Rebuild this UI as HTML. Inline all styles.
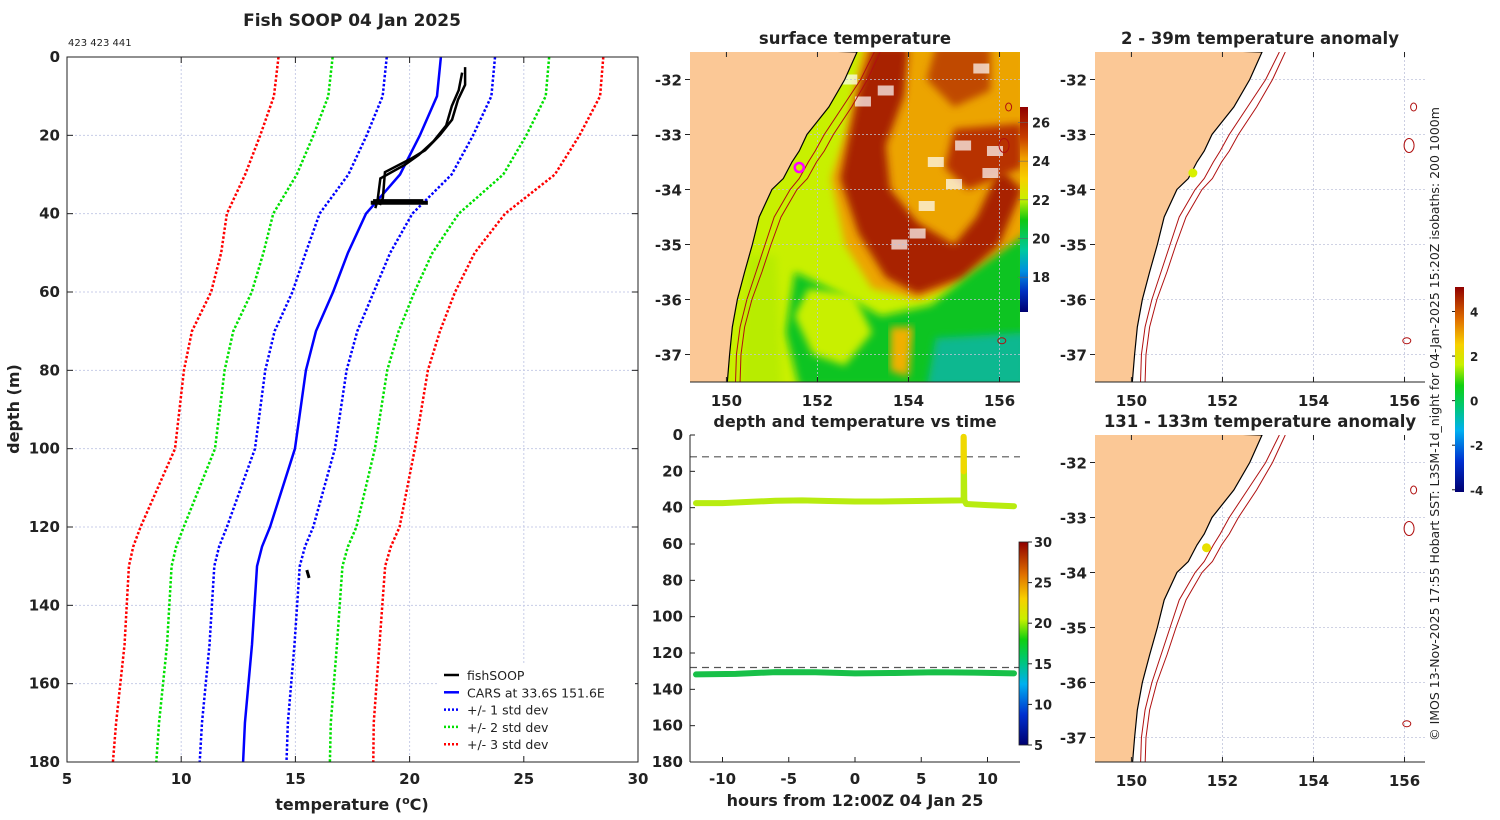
<!DOCTYPE html>
<html><head><meta charset="utf-8">
<style>
html,body{margin:0;padding:0;background:#fff;}
svg{display:block;font-family:"DejaVu Sans","Liberation Sans",sans-serif;}
</style></head>
<body>
<svg id="fig" width="1500" height="820" viewBox="0 0 1500 820" xmlns="http://www.w3.org/2000/svg">
<defs>
<linearGradient id="jet" x1="0" y1="1" x2="0" y2="0">
<stop offset="0" stop-color="#000070"/><stop offset="0.15" stop-color="#0030d0"/><stop offset="0.3" stop-color="#00b0f0"/><stop offset="0.42" stop-color="#00c870"/><stop offset="0.52" stop-color="#10d010"/><stop offset="0.62" stop-color="#c8f000"/><stop offset="0.72" stop-color="#f8d000"/><stop offset="0.84" stop-color="#e07000"/><stop offset="1" stop-color="#900000"/>
</linearGradient>
<linearGradient id="sstcb" x1="0" y1="1" x2="0" y2="0">
<stop offset="0" stop-color="#000070"/><stop offset="0.1" stop-color="#0030c0"/><stop offset="0.2" stop-color="#0090e0"/><stop offset="0.3" stop-color="#00c8a0"/><stop offset="0.45" stop-color="#10c810"/><stop offset="0.55" stop-color="#c8f000"/><stop offset="0.65" stop-color="#f8d000"/><stop offset="0.75" stop-color="#f0a000"/><stop offset="0.85" stop-color="#c84000"/><stop offset="1" stop-color="#900000"/>
</linearGradient>
<filter id="blur" x="-10%" y="-10%" width="120%" height="120%"><feGaussianBlur stdDeviation="4"/></filter>
<clipPath id="clipSST"><rect x="690" y="52" width="330" height="330"/></clipPath>
<clipPath id="clipA1"><rect x="1095" y="52" width="330" height="330"/></clipPath>
<clipPath id="clipA2"><rect x="1095" y="435" width="330" height="327"/></clipPath>
</defs>
<g id="root"></g>
</svg>
<script>
// ---------- Profile chart data ----------
const profDepth = [0,10,20,30,40,50,60,70,80,100,120,125,130,150,170,180];
const carsMean  = [21.37,21.2,20.45,19.58,18.09,17.3,16.65,15.9,15.46,14.98,13.89,13.54,13.32,13.1,12.79,12.71];
const carsStd   = [2.37,2.38,2.33,2.26,2.03,1.85,1.78,1.81,1.78,1.75,1.89,1.88,1.87,1.86,1.88,1.90];
const fishDepthA = [2.6,7.1,10.9,16.0,19.9,23.8,25.8,29.4,36.0,37.8];
const fishTempA  = [22.43,22.43,22.12,21.86,21.33,20.68,20.11,18.92,18.83,18.7];
const fishDepthB = [4,8.5,12.5,17.5,21.5,25,27.5,31,36.5,38.6];
const fishTempB  = [22.3,22.15,21.85,21.6,21.05,20.4,19.8,18.72,18.6,18.5];
const blobDepth = [36.8,37.2,37.0];
const blobTemp0 = [18.4,18.3,18.7];
const blobTemp1 = [20.6,20.8,19.3];
const deepDepth = [131,133];
const deepTemp  = [15.5,15.6];
const xTicksProf = [5,10,15,20,25,30];
const yTicksProf = [0,20,40,60,80,100,120,140,160,180];

// ---------- time series data ----------
const tsHoursU = [-12,-10,-8,-6,-4,-2,0,2,4,6,8,8.2,8.2,8.25,8.4,10,12];
const tsDepthU = [37.5,37.5,36.8,36.2,36,36.3,36.6,36.6,36.4,36.2,36,36,1,36,38,38.6,39.2];
const tsHoursL = [-12,-9,-6,-3,0,3,6,9,12];
const tsDepthL = [131.8,131.5,130.5,130.6,131.2,131.0,130.6,130.8,131.2];
const dashDepths = [12,128];
const tsXTicks = [-10,-5,0,5,10];
const tsYTicks = [0,20,40,60,80,100,120,140,160,180];
const tsCbTicks = [5,10,15,20,25,30];

// ---------- map data ----------
const coastLat = [-31.5,-32,-32.5,-33,-33.3,-33.5,-33.8,-34,-34.5,-35,-35.5,-36,-36.5,-37,-37.5];
const coastLon = [152.87,152.6,152.25,151.77,151.6,151.44,151.25,151.0,150.72,150.57,150.4,150.24,150.13,150.07,150.02];
const iso1Lon  = [153.25,152.95,152.55,152.15,151.95,151.8,151.6,151.4,151.05,150.85,150.65,150.45,150.3,150.22,150.2];
const iso2Lon  = [153.38,153.1,152.75,152.35,152.15,151.98,151.78,151.55,151.2,150.98,150.78,150.56,150.4,150.32,150.3];
const lonTicks = [150,152,154,156];
const latTicks = [-32,-33,-34,-35,-36,-37];
const sstCbTicks = [18,20,22,24,26];
const anomCbTicks = [-4,-2,0,2,4];

const NS="http://www.w3.org/2000/svg";
const root=document.getElementById('root');
function mk(tag,attrs,parent){const e=document.createElementNS(NS,tag);for(const k in attrs)e.setAttribute(k,attrs[k]);(parent||root).appendChild(e);return e;}
function txt(s,x,y,size,anchor,bold,parent,fill){const t=mk('text',{x:x,y:y,'font-size':size,'text-anchor':anchor||'start',fill:fill||'#222','font-weight':bold?'bold':'normal'},parent);t.textContent=s;return t;}

// ===== Profile chart =====
const PX0=67,PX1=638,PY0=57,PY1=762;
const px=t=>PX0+(t-5)/25*(PX1-PX0);
const py=d=>PY0+d/180*(PY1-PY0);
const gP=mk('g',{});


xTicksProf.slice(1,-1).forEach(t=>{const l=mk('line',{x1:px(t),x2:px(t),y1:PY0,y2:PY1,stroke:'#c8cde8','stroke-width':1,'stroke-dasharray':'2 2'},gP);});
yTicksProf.slice(1,-1).forEach(d=>{const l=mk('line',{x1:PX0,x2:PX1,y1:py(d),y2:py(d),stroke:'#c8cde8','stroke-width':1,'stroke-dasharray':'2 2'},gP);});
function polyline(xs,ys,attrs,name){const pts=xs.map((x,i)=>x+','+ys[i]).join(' ');const p=mk('polyline',Object.assign({points:pts,fill:'none'},attrs),gP);return p;}
const sdColors=['#0000ff','#00e000','#ff0000'];
[1,2,3].forEach(k=>{[-1,1].forEach(sg=>{
  polyline(carsMean.map((m,i)=>px(m+sg*k*carsStd[i])),profDepth.map(py),{stroke:sdColors[k-1],'stroke-width':2.5,'stroke-dasharray':'2.5 2'},'std-dev-'+k+(sg>0?'-plus':'-minus'));
});});
polyline(carsMean.map(px),profDepth.map(py),{stroke:'#0000ff','stroke-width':2.5},'cars-mean-line');
polyline(fishTempA.map(px),fishDepthA.map(py),{stroke:'#000','stroke-width':2.5},'fishsoop-profile-down');
polyline(fishTempB.map(px),fishDepthB.map(py),{stroke:'#000','stroke-width':2.5},'fishsoop-profile-up');
blobDepth.forEach((d,i)=>{const l=mk('line',{x1:px(blobTemp0[i]),x2:px(blobTemp1[i]),y1:py(d),y2:py(d),stroke:'#000','stroke-width':4},gP);});
polyline(deepTemp.map(px),deepDepth.map(py),{stroke:'#000','stroke-width':3},'fishsoop-deep-segment');
mk('rect',{x:PX0,y:PY0,width:PX1-PX0,height:PY1-PY0,fill:'none',stroke:'#222','stroke-width':1},gP);
xTicksProf.forEach(t=>{mk('line',{x1:px(t),x2:px(t),y1:PY1,y2:PY1-6,stroke:'#222'},gP);mk('line',{x1:px(t),x2:px(t),y1:PY0,y2:PY0+6,stroke:'#222'},gP);const tl=txt(String(t),px(t),PY1+22,15,'middle',true,gP);});
yTicksProf.forEach(d=>{mk('line',{x1:PX0,x2:PX0+6,y1:py(d),y2:py(d),stroke:'#222'},gP);mk('line',{x1:PX1,x2:PX1-6,y1:py(d),y2:py(d),stroke:'#222'},gP);const tl=txt(String(d),PX0-7,py(d)+5,15,'end',true,gP);});
let t1=txt('Fish SOOP 04 Jan 2025',352,26,17,'middle',true,gP);
let t2=txt('423 423 441',68,46,10,'start',false,gP);
let xt=mk('text',{x:352,y:810,'font-size':16,'text-anchor':'middle','font-weight':'bold',fill:'#222'},gP);xt.innerHTML='temperature (<tspan baseline-shift="super" font-size="11">o</tspan>C)';
let yt=txt('depth (m)',0,0,16,'middle',true,gP);yt.setAttribute('transform','translate(19,409) rotate(-90)');
const legItems=[['fishSOOP','#000',null],['CARS at 33.6S 151.6E','#0000ff',null],['+/- 1 std dev','#0000ff','2 2'],['+/- 2 std dev','#00e000','2 2'],['+/- 3 std dev','#ff0000','2 2']];
const gL=mk('g',{},gP);
mk('rect',{x:438,y:664,width:197,height:92,fill:'#fff'},gL);
legItems.forEach((it,i)=>{const y=675+i*17.3;const g=mk('g',{},gL);
 const a={x1:444,x2:459,y1:y,y2:y,stroke:it[1],'stroke-width':2.5};if(it[2])a['stroke-dasharray']=it[2];mk('line',a,g);txt(it[0],467,y+5,12.5,'start',false,g);});

// ===== Time series =====
const TX0=690,TX1=1020,TY0=435,TY1=762;
const tx=h=>855+h*13.25;
const ty=d=>TY0+d/180*(TY1-TY0);
const gT=mk('g',{});
dashDepths.forEach(d=>{const l=mk('line',{x1:TX0,x2:TX1,y1:ty(d),y2:ty(d),stroke:'#555','stroke-width':1.2,'stroke-dasharray':'7 5'},gT);});
function tsLine(hs,ds,color,name){const p=mk('polyline',{points:hs.map((h,i)=>tx(h)+','+ty(ds[i])).join(' '),fill:'none',stroke:color,'stroke-width':6,'stroke-linecap':'round','stroke-linejoin':'round'},gT);}
tsLine(tsHoursU,tsDepthU,'#b8ec10','upper-track');
let sp=mk('line',{x1:tx(8.2),x2:tx(8.2),y1:ty(1),y2:ty(20),stroke:'#f0d800','stroke-width':6,'stroke-linecap':'round'},gT);
tsLine(tsHoursL,tsDepthL,'#18c048','lower-track');
mk('line',{x1:TX0,x2:TX0,y1:TY0,y2:TY1,stroke:'#222'},gT);mk('line',{x1:TX0,x2:TX1,y1:TY1,y2:TY1,stroke:'#222'},gT);
tsXTicks.forEach(h=>{mk('line',{x1:tx(h),x2:tx(h),y1:TY1,y2:TY1-5,stroke:'#222'},gT);const l=txt(String(h),tx(h),TY1+22,15,'middle',true,gT);});
tsYTicks.forEach(d=>{mk('line',{x1:TX0,x2:TX0+5,y1:ty(d),y2:ty(d),stroke:'#222'},gT);const l=txt(String(d),TX0-7,ty(d)+5,15,'end',true,gT);});
let tt=txt('depth and temperature vs time',855,427,16,'middle',true,gT);
let tx2=txt('hours from 12:00Z 04 Jan 25',855,806,16,'middle',true,gT);
const CBY0=542,CBY1=745;const cby=v=>CBY1-(v-5)/25*(CBY1-CBY0);
let cb=mk('rect',{x:1019,y:CBY0,width:9,height:CBY1-CBY0,fill:'url(#jet)',stroke:'#222','stroke-width':0.8},gT);
tsCbTicks.forEach(v=>{mk('line',{x1:1028,x2:1032,y1:cby(v),y2:cby(v),stroke:'#222'},gT);const l=txt(String(v),1034,cby(v)+5,13,'start',true,gT);});

// ===== Maps =====
function makeMap(x0,y0,w,h,latTop,clip,name,title,sst){
 const mx=lon=>x0+(lon-149.2)/(156.45-149.2)*w;
 const my=lat=>y0+(latTop-lat)*55;
 const g=mk('g',{});
 const gc=mk('g',{'clip-path':'url(#'+clip+')'},g);
 mk('rect',{x:x0,y:y0,width:w,height:h,fill:sst?'#c8f000':'#fff'},gc);
 if(sst){
  const poly=(pts,fill,nm)=>{const p=mk('polygon',{points:pts.map(q=>mx(q[0])+','+my(q[1])).join(' '),fill:fill,filter:'url(#blur)'},gc);};
  poly([[153.0,-31.4],[156.6,-31.4],[156.6,-35.2],[155.5,-35.6],[154.2,-36.0],[153.2,-35.8],[152.6,-35.0],[152.3,-33.8],[152.6,-33.0]],'#eca400','warm-water-region');
  poly([[153.2,-31.4],[154.0,-31.4],[153.9,-32.3],[153.5,-33.2],[153.6,-34.0],[154.2,-34.6],[155.0,-35.0],[155.5,-34.5],[156.0,-33.6],[156.5,-34.0],[156.0,-35.0],[155.2,-35.6],[154.2,-35.9],[153.5,-35.6],[152.9,-34.8],[152.5,-33.8],[152.7,-33.0],[152.9,-32.2]],'#a82000','eac-core');
  poly([[154.6,-31.4],[155.8,-31.4],[155.8,-32.2],[155.0,-32.5],[154.4,-32.0]],'#c04800','warm-eddy');
  poly([[155.0,-32.9],[156.5,-32.8],[156.5,-33.6],[155.3,-34.0],[154.8,-33.6]],'#b83000','warm-eddy-east');
  poly([[156.6,-34.8],[156.6,-37.6],[151.6,-37.6],[151.3,-36.6],[151.5,-35.5],[152.5,-35.9],[153.4,-36.3],[154.5,-36.1],[155.4,-35.5]],'#10c420','cool-green-region');
  poly([[154.6,-36.7],[156.6,-36.6],[156.6,-37.6],[154.4,-37.6]],'#10b890','cool-teal-region');
  poly([[151.8,-35.8],[152.8,-35.9],[153.2,-36.6],[152.6,-37.2],[151.9,-37.0],[151.5,-36.3]],'#c8f000','yellow-filament');
  poly([[153.6,-36.5],[154.1,-36.5],[154.0,-37.4],[153.6,-37.3]],'#f0b000','warm-filament');
  poly([[150.5,-35.2],[151.1,-35.2],[151.2,-37.6],[150.3,-37.6]],'#b8ec00','shelf-water');
  const speck=[[154.6,-33.5],[155.2,-33.2],[155.8,-33.7],[154.2,-34.8],[153.8,-35.0],[155.0,-33.9],[153.0,-32.4],[152.7,-32.0],[155.6,-31.8],[153.5,-32.2],[154.4,-34.3],[155.9,-33.3]];
  speck.forEach(s=>{const r=mk('rect',{x:mx(s[0])-8,y:my(s[1])-5,width:16,height:10,fill:'#fff',opacity:0.7},gc);});
 }
 lonTicks.forEach(l=>mk('line',{x1:mx(l),x2:mx(l),y1:y0,y2:y0+h,stroke:'#c0c4dc','stroke-width':0.8,'stroke-dasharray':'2 2'},gc));
 latTicks.forEach(l=>mk('line',{x1:x0,x2:x0+w,y1:my(l),y2:my(l),stroke:'#c0c4dc','stroke-width':0.8,'stroke-dasharray':'2 2'},gc));
 const landPts=[[149,-31.4]].concat(coastLat.map((la,i)=>[coastLon[i],la])).concat([[150.0,-38.5],[149,-38.5]]);
 const land=mk('polygon',{points:landPts.map(q=>mx(q[0])+','+my(q[1])).join(' '),fill:'#fbc896',stroke:'#000','stroke-width':1.2},gc);
 [iso1Lon,iso2Lon].forEach((arr,k)=>{const p=mk('polyline',{points:coastLat.map((la,i)=>mx(arr[i])+','+my(la)).join(' '),fill:'none',stroke:'#b01010','stroke-width':1},gc);});
 [[156.1,-33.2,5,7],[156.2,-32.5,3,4],[156.05,-36.75,4,3]].forEach(s=>{const e=mk('ellipse',{cx:mx(s[0]),cy:my(s[1]),rx:s[2],ry:s[3],fill:'none',stroke:'#b01010','stroke-width':1},gc);});
 mk('line',{x1:x0,x2:x0+w,y1:y0+h,y2:y0+h,stroke:'#222'},g);
 lonTicks.forEach(l=>{mk('line',{x1:mx(l),x2:mx(l),y1:y0+h,y2:y0+h-5,stroke:'#222'},g);mk('line',{x1:mx(l),x2:mx(l),y1:y0,y2:y0+5,stroke:'#222'},g);const t=txt(String(l),mx(l),y0+h+24,15,'middle',true,g);});
 latTicks.forEach(l=>{const yy=my(l);if(yy<y0||yy>y0+h)return;mk('line',{x1:x0-5,x2:x0,y1:yy,y2:yy,stroke:'#222'},g);const t=txt(String(l),x0-8,yy+6,15,'end',true,g);});
 const tt=txt(title,x0+w/2,y0-8,16.5,'middle',true,g);
 return {g,mx,my};
}
const m1=makeMap(690,52,330,330,-31.5,'clipSST','surface-temperature-map','surface temperature',true);
let ring=mk('circle',{cx:m1.mx(151.6),cy:m1.my(-33.6),r:4.5,fill:'none',stroke:'#ff00ff','stroke-width':2.5},m1.g);
const SY0=107,SY1=312;const sy=v=>SY1-(v-16.2)/(26.8-16.2)*(SY1-SY0);
let scb=mk('rect',{x:1020,y:SY0,width:8,height:SY1-SY0,fill:'url(#sstcb)'},m1.g);
sstCbTicks.forEach(v=>{mk('line',{x1:1018,x2:1028,y1:sy(v),y2:sy(v),stroke:'#666','stroke-width':0.6},m1.g);const t=txt(String(v),1032,sy(v)+5,13,'start',true,m1.g);});
const m2=makeMap(1095,52,330,330,-31.5,'clipA1','anomaly-map-upper','2 - 39m temperature anomaly',false);
let d1=mk('circle',{cx:m2.mx(151.35),cy:m2.my(-33.7),r:4.5,fill:'#d8f000'},m2.g);
const m3=makeMap(1095,435,330,327,-31.5,'clipA2','anomaly-map-lower','131 - 133m temperature anomaly',false);
let d2=mk('circle',{cx:m3.mx(151.65),cy:m3.my(-33.55),r:4.5,fill:'#e8e000'},m3.g);
const AY0=287,AY1=492;const ay=v=>AY1-(v+4.1)/(5.1+4.1)*(AY1-AY0);
let acb=mk('rect',{x:1455,y:AY0,width:9,height:AY1-AY0,fill:'url(#jet)'},root);
anomCbTicks.forEach(v=>{mk('line',{x1:1452,x2:1455,y1:ay(v),y2:ay(v),stroke:'#222'});const t=txt(String(v),1470,ay(v)+5,12,'start',true);});
let cr=txt('© IMOS 13-Nov-2025 17:55 Hobart SST: L3SM-1d_night for 04-Jan-2025 15:20Z isobaths: 200  1000m',0,0,12.5,'middle',false);
cr.setAttribute('transform','translate(1439,424) rotate(-90)');


</script>
</body></html>
